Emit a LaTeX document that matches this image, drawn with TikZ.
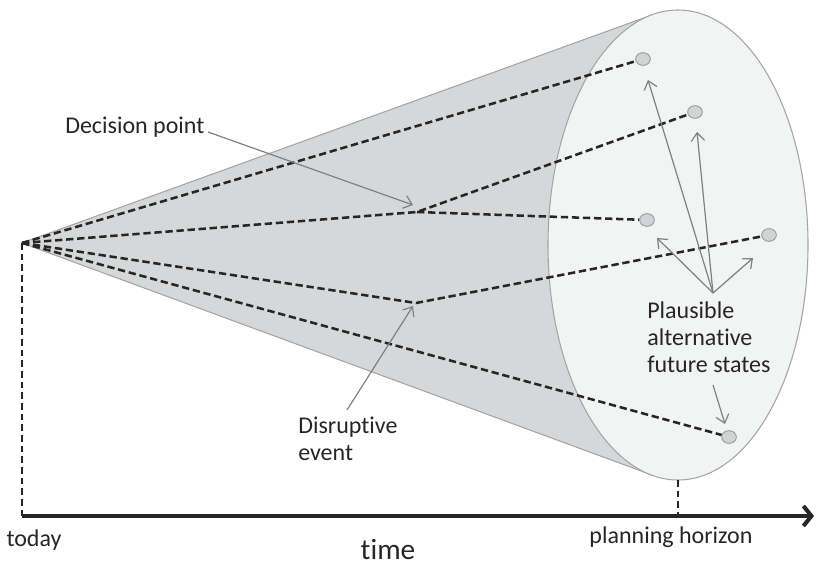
\documentclass[tikz,border=0pt]{standalone}
\usepackage{fontspec}
\setmainfont{Carlito}[RawFeature={-liga;-clig;-dlig}]
\usetikzlibrary{arrows.meta,shapes.geometric}
\definecolor{coneside}{HTML}{D6D7D8}
\definecolor{coneface}{HTML}{F2F3F3}
\definecolor{coneedge}{HTML}{A4A5A6}
\definecolor{dotfill}{HTML}{D2D3D4}
\definecolor{dotedge}{HTML}{9A9B9C}
\definecolor{pointer}{HTML}{7F8081}
\definecolor{ink}{HTML}{262626}
\begin{document}
\begin{tikzpicture}[x=0.75pt,y=-0.75pt,
  pathline/.style={draw=ink,line width=1.9pt,dash pattern=on 5.5pt off 2.8pt},
  guide/.style={draw=ink,line width=1.4pt,dash pattern=on 5pt off 3pt},
  state/.style={ellipse,draw=dotedge,fill=dotfill,line width=0.7pt,minimum width=11pt,minimum height=9.5pt,inner sep=0pt},
  callout/.style={draw=pointer,line width=0.9pt,-{Straight Barb[length=6pt,width=10pt]}},
  lbl/.style={text=ink,font=\fontsize{18}{20}\selectfont,inner sep=0pt},
  axis/.style={draw=black!85,line width=3pt,-{Straight Barb[length=6pt,width=15pt]}}]
\useasboundingbox (0,0) rectangle (816,567);

% cone body and its end face
\coordinate (apex) at (22,243);
\fill[coneside,draw=coneedge,line width=0.8pt] (apex) -- (652,15) -- (678,245) -- (652,475) -- cycle;
\draw[fill=coneface,draw=coneedge,line width=0.8pt] (678,245) ellipse [x radius=97.5pt,y radius=176.25pt];

% future states
\node[state] (s1) at (643,59) {};
\node[state] (s2) at (695,112) {};
\node[state] (s3) at (647,220) {};
\node[state] (s4) at (769,235) {};
\node[state] (s5) at (729,437) {};

% branching points
\coordinate (dp) at (417,212);
\coordinate (de) at (416,303);

% scenario paths
\draw[pathline] (apex) -- (s1);
\draw[pathline] (apex) -- (dp) -- (s2);
\draw[pathline] (dp) -- (s3);
\draw[pathline] (apex) -- (de) -- (s4);
\draw[pathline] (apex) -- (s5);

% time axis
\coordinate (t0) at (22,516);
\coordinate (tend) at (814,516);
\coordinate (hz) at (678,516);
\coordinate (hztop) at (678,480);
\draw[guide] (apex) -- (t0);
\draw[guide] (hztop) -- (hz);
\draw[axis] (t0) -- (tend);

% labels
\node[lbl,anchor=west] (ldp) at (65,127) {Decision point};
\node[lbl,anchor=north west,align=left] (lde) at (298,417) {Disruptive\\event};
\node[lbl,anchor=north west,align=left] (lpf) at (647,302) {Plausible\\alternative\\future states};
\node[lbl] (ltoday) at (34,540) {today};
\node[lbl] (lhz) at (671,537) {planning horizon};
\node[lbl,font=\fontsize{22}{24}\selectfont] (ltime) at (388,550) {time};

% callouts
\coordinate (dpfrom) at (208,132);
\coordinate (dptip) at (413,205);
\draw[callout] (dpfrom) -- (dptip);
\coordinate (defrom) at (347,410);
\coordinate (detip) at (413,306);
\draw[callout] (defrom) -- (detip);
\coordinate (fan) at (713,293);
\coordinate (f1) at (648,80);
\coordinate (f2) at (697,132);
\coordinate (f3) at (657,238);
\coordinate (f4) at (753,258);
\draw[callout] (fan) -- (f1);
\draw[callout] (fan) -- (f2);
\draw[callout] (fan) -- (f3);
\draw[callout] (fan) -- (f4);
\coordinate (pfrom) at (713,385);
\coordinate (ptip) at (725,424);
\draw[callout] (pfrom) -- (ptip);
\end{tikzpicture}
\end{document}
